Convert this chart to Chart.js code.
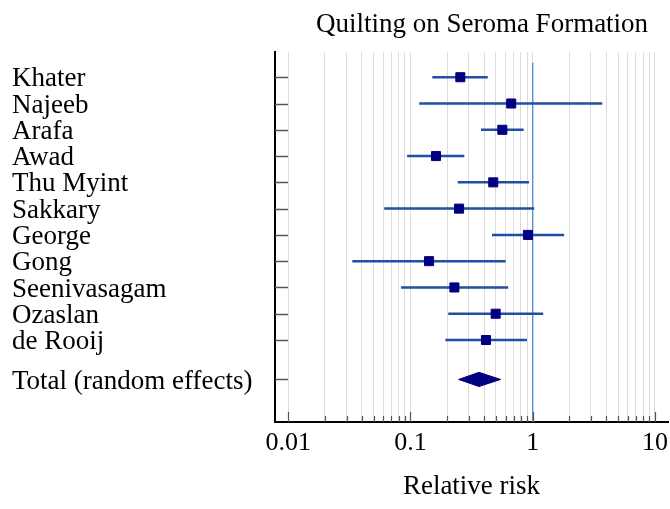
<!DOCTYPE html>
<html>
<head>
<meta charset="utf-8">
<script src="https://cdn.jsdelivr.net/npm/chart.js@4.4.1/dist/chart.umd.min.js"></script>
<style>
  html, body { margin: 0; padding: 0; background: #fff; }
  #wrap { width: 670px; height: 509px; }
</style>
</head>
<body>
<div id="wrap"><canvas id="forest"></canvas></div>
<script>
const chartTitle = "Quilting on Seroma Formation";
const studies = ["Khater", "Najeeb", "Arafa", "Awad", "Thu Myint", "Sakkary", "George", "Gong", "Seenivasagam", "Ozaslan", "de Rooij"];
const riskEstimate = [0.256, 0.668, 0.565, 0.162, 0.476, 0.250, 0.915, 0.142, 0.229, 0.498, 0.415];
const lowerCI = [0.151, 0.118, 0.378, 0.094, 0.244, 0.061, 0.465, 0.0335, 0.0838, 0.204, 0.193];
const upperCI = [0.429, 3.71, 0.844, 0.276, 0.933, 1.03, 1.81, 0.601, 0.631, 1.22, 0.898];
const totalLabel = "Total (random effects)";
const totalEstimate = [0.364];
const totalLower = [0.248];
const totalUpper = [0.547];
const xMajorTicks = [0.01, 0.1, 1, 10];
const xTickLabels = ["0.01", "0.1", "1", "10"];

const FONT = '"Liberation Serif", "Times New Roman", serif';

// row positions: one per study, total sits half a row further down
const rowPos = studies.map((s, i) => i).concat([studies.length + 0.5]);
const rowLabels = studies.concat([totalLabel]);
const totalRow = rowPos[rowPos.length - 1];
const Y_MIN = -0.96, Y_MAX = 13.12;
const DIAMOND_H = 0.27;

// grid values: 1..9 in every decade up to 10
const xGrid = [];
xMajorTicks.slice(0, -1).forEach(d => {
    for (let k = 1; k <= 9; k++) xGrid.push(+(d * k).toPrecision(6));
});
xGrid.push(xMajorTicks[xMajorTicks.length - 1]);

const isMajor = v => xMajorTicks.some(m => Math.abs(m - v) < 1e-9);

const ciSets = studies.map((s, i) => ({
    data: [{ x: lowerCI[i], y: rowPos[i] }, { x: upperCI[i], y: rowPos[i] }],
    showLine: true,
    borderColor: "#1f4ea3",
    borderWidth: 2.5,
    pointRadius: 0,
    order: 2,
}));

const innerTicks = {
    id: "innerTicks",
    afterDraw(chart) {
        const { ctx, chartArea, scales } = chart;
        ctx.save();
        ctx.strokeStyle = "#555";
        ctx.lineWidth = 1.5;
        scales.y.ticks.forEach(t => {
            const y = Math.round(scales.y.getPixelForValue(t.value)) + 0.5;
            ctx.beginPath();
            ctx.moveTo(chartArea.left, y);
            ctx.lineTo(chartArea.left + 13, y);
            ctx.stroke();
        });
        ctx.lineWidth = 1.2;
        scales.x.ticks.forEach(t => {
            const x = Math.round(scales.x.getPixelForValue(t.value)) + 0.5;
            const len = isMajor(t.value) ? 10 : 6;
            ctx.beginPath();
            ctx.moveTo(x, chartArea.bottom);
            ctx.lineTo(x, chartArea.bottom - len);
            ctx.stroke();
        });
        ctx.fillStyle = "#000";
        ctx.font = "27px " + FONT;
        ctx.textAlign = "center";
        ctx.textBaseline = "middle";
        ctx.fillText(chartTitle, 482, 25);
        ctx.restore();
    },
};

new Chart(document.getElementById("forest"), {
    type: "scatter",
    data: {
        datasets: [
            {
                data: [{ x: 1, y: -0.55 }, { x: 1, y: Y_MAX }],
                showLine: true,
                borderColor: "#5b8fd6",
                borderWidth: 1,
                pointRadius: 0,
                order: 3,
            },
            ...ciSets,
            {
                data: riskEstimate.map((v, i) => ({ x: v, y: rowPos[i] })),
                pointStyle: "rect",
                pointRadius: 6.4,
                backgroundColor: "#000080",
                borderColor: "#000080",
                borderWidth: 1,
                order: 0,
            },
            {
                data: [
                    { x: totalLower[0], y: totalRow },
                    { x: totalEstimate[0], y: totalRow - DIAMOND_H },
                    { x: totalUpper[0], y: totalRow },
                    { x: totalEstimate[0], y: totalRow + DIAMOND_H },
                    { x: totalLower[0], y: totalRow },
                ],
                showLine: true,
                fill: "shape",
                tension: 0,
                backgroundColor: "#000080",
                borderColor: "#000080",
                borderWidth: 1,
                pointRadius: 0,
                order: 0,
            },
        ],
    },
    options: {
        responsive: true,
        maintainAspectRatio: false,
        animation: false,
        layout: { autoPadding: false, padding: { top: 52, left: 12, right: 2, bottom: 0 } },
        plugins: {
            legend: { display: false },
            tooltip: { enabled: false },
        },
        scales: {
            x: {
                type: "logarithmic",
                bounds: "data",
                min: 0.0078,
                max: 12.8,
                afterBuildTicks: scale => {
                    scale.ticks = xGrid.map(v => ({ value: v, major: isMajor(v) }));
                },
                afterFit: scale => {
                    scale.height = 87;
                    scale.paddingLeft = 0;
                    scale.paddingRight = 0;
                },
                grid: { color: "#dcdcdc", lineWidth: 1, drawTicks: false },
                border: { display: true, color: "#000", width: 2 },
                ticks: {
                    autoSkip: false,
                    maxRotation: 0,
                    minRotation: 0,
                    padding: 6,
                    color: "#000",
                    font: { family: FONT, size: 26 },
                    callback: v => {
                        const j = xMajorTicks.findIndex(m => Math.abs(m - v) < 1e-9);
                        return j >= 0 ? xTickLabels[j] : "";
                    },
                },
                title: {
                    display: true,
                    text: "Relative risk",
                    color: "#000",
                    font: { family: FONT, size: 27 },
                    padding: { top: 0, bottom: 6 },
                },
            },
            y: {
                type: "linear",
                reverse: true,
                min: Y_MIN,
                max: Y_MAX,
                afterBuildTicks: scale => {
                    scale.ticks = rowPos.map(v => ({ value: v }));
                },
                afterFit: scale => {
                    scale.width = 263;
                },
                grid: { display: false, drawTicks: false },
                border: { display: true, color: "#000", width: 2 },
                ticks: {
                    autoSkip: false,
                    crossAlign: "far",
                    padding: 0,
                    labelOffset: 2,
                    color: "#000",
                    font: { family: FONT, size: 27 },
                    callback: (v, i) => rowLabels[i],
                },
            },
        },
    },
    plugins: [innerTicks],
});
</script>
</body>
</html>
